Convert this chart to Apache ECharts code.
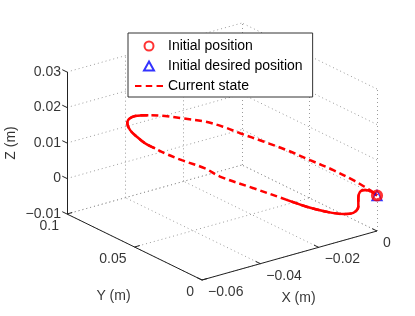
<!DOCTYPE html>
<html><head><meta charset="utf-8">
<script src="https://cdn.jsdelivr.net/npm/echarts@6/dist/echarts.min.js"></script>
<style>html,body{margin:0;padding:0;background:#fff}#c{width:415px;height:316px}</style>
</head><body><div id="c"></div>
<script>
// ---------- data ----------
const xTicks = [-0.06, -0.04, -0.02, 0];
const yTicks = [0, 0.05, 0.1];
const zTicks = [-0.01, 0, 0.01, 0.02, 0.03];
const xTickLabels = ['\u22120.06', '\u22120.04', '\u22120.02', '0'];
const yTickLabels = ['0', '0.05', '0.1'];
const zTickLabels = ['\u22120.01', '0', '0.01', '0.02', '0.03'];
const axisTitles = ['X (m)', 'Y (m)', 'Z (m)'];
const legendNames = ['Initial position', 'Initial desired position', 'Current state'];

const trajX = [0, -0.0009, -0.0021, -0.0030, -0.0033, -0.0033, -0.0042, -0.0059, -0.0089, -0.0124, -0.0159, -0.0218, -0.0277, -0.0303, -0.0344, -0.0374, -0.0391, -0.0409, -0.0423, -0.0435, -0.0440, -0.0437, -0.0426, -0.0403, -0.0374, -0.0344, -0.0303, -0.0271, -0.0241, -0.0200, -0.0159, -0.0118, -0.0077, -0.0042, -0.0018, -0.0004, 0];
const trajY = [0, 0.0019, 0.0043, 0.0061, 0.0067, 0.0067, 0.0085, 0.0121, 0.0181, 0.0253, 0.0325, 0.0445, 0.0565, 0.0619, 0.0703, 0.0763, 0.0799, 0.0835, 0.0865, 0.0889, 0.0899, 0.0893, 0.0871, 0.0823, 0.0763, 0.0703, 0.0619, 0.0553, 0.0493, 0.0409, 0.0325, 0.0241, 0.0157, 0.0085, 0.0037, 0.0007, 0];
const trajZ = [0, 0.0009, 0.0012, 0.0006, -0.0013, -0.0036, -0.0055, -0.0061, -0.0059, -0.0050, -0.0036, -0.0012, 0.0012, 0.0031, 0.0048, 0.0063, 0.0074, 0.0086, 0.0102, 0.0119, 0.0138, 0.0150, 0.0160, 0.0166, 0.0168, 0.0166, 0.0163, 0.0153, 0.0139, 0.0122, 0.0104, 0.0082, 0.0060, 0.0037, 0.0018, 0.0006, 0];
const initialPosition = [0, 0, 0];
const initialDesiredPosition = [0, 0, 0];

// ---------- view (orthographic projection of the axes box) ----------
const box = { x: [-0.06, 0], y: [0, 0.1], z: [-0.01, 0.03] };
const view = { origin: [202, 280], ux: [175, -49], uy: [-135, -66], uz: [0, -142] };
function proj(x, y, z) {
  const u = (x - box.x[0]) / (box.x[1] - box.x[0]);
  const v = (y - box.y[0]) / (box.y[1] - box.y[0]);
  const w = (z - box.z[0]) / (box.z[1] - box.z[0]);
  return [view.origin[0] + u * view.ux[0] + v * view.uy[0] + w * view.uz[0],
          view.origin[1] + u * view.ux[1] + v * view.uy[1] + w * view.uz[1]];
}
const [x0, x1] = box.x, [y0, y1] = box.y, [z0, z1] = box.z;
const seg = (a, b) => ({ coords: [a, b] });

const gridSegs = [];
xTicks.forEach(t => gridSegs.push(seg(proj(t, y0, z0), proj(t, y1, z0))));
yTicks.forEach(t => gridSegs.push(seg(proj(x0, t, z0), proj(x1, t, z0))));
xTicks.forEach(t => gridSegs.push(seg(proj(t, y1, z0), proj(t, y1, z1))));
zTicks.forEach(t => gridSegs.push(seg(proj(x0, y1, t), proj(x1, y1, t))));
yTicks.forEach(t => gridSegs.push(seg(proj(x1, t, z0), proj(x1, t, z1))));
zTicks.forEach(t => gridSegs.push(seg(proj(x1, y0, t), proj(x1, y1, t))));

const axisSegs = [
  seg(proj(x0, y0, z0), proj(x1, y0, z0)),
  seg(proj(x0, y0, z0), proj(x0, y1, z0)),
  seg(proj(x0, y1, z0), proj(x0, y1, z1))
];
const tx = 0.03 * (x1 - x0), ty = 0.035 * (y1 - y0);
xTicks.forEach(t => axisSegs.push(seg(proj(t, y0, z0), proj(t, y0 + ty, z0))));
yTicks.forEach(t => axisSegs.push(seg(proj(x0, t, z0), proj(x0 + tx, t, z0))));
zTicks.forEach(t => axisSegs.push(seg(proj(x0, y1, t), proj(x0, y1 + ty, t))));

const traj = trajX.map((x, i) => proj(x, trajY[i], trajZ[i]));
const solidRanges = [[0, 10], [16, 23]];
const trajSolid = traj.map((p, i) => solidRanges.some(r => i >= r[0] && i <= r[1]) ? p : '-');

const FONT = 'Liberation Sans';
const FS = 14;
const lbl = (extra) => Object.assign({ show: true, formatter: '{b}', fontFamily: FONT, fontSize: FS, color: '#000', position: 'inside' }, extra);
const textSeries = (data, label) => ({
  type: 'scatter', symbolSize: 0.1, itemStyle: { color: 'transparent' }, silent: true, z: 5,
  data, label: lbl(label)
});

const option = {
  animation: false,
  grid: { left: 0, right: 0, top: 0, bottom: 0 },
  xAxis: { type: 'value', min: 0, max: 415, show: false },
  yAxis: { type: 'value', min: 0, max: 316, inverse: true, show: false },
  legend: {
    orient: 'vertical', left: 128, top: 33, itemWidth: 28, itemHeight: 9, itemGap: 6,
    padding: [6, 10, 4, 7], borderColor: '#333', borderWidth: 1, backgroundColor: '#fff',
    symbolKeepAspect: true, selectedMode: false,
    textStyle: { fontFamily: FONT, fontSize: FS, color: '#000' },
    data: [
      { name: legendNames[0] },
      { name: legendNames[1], icon: 'path://M5,0L10,9L0,9Z' },
      { name: legendNames[2], icon: 'path://M0,0h6v2h-6z M10,0h6v2h-6z M20,0h6v2h-6z' }
    ],
    z: 10
  },
  series: [
    { type: 'lines', coordinateSystem: 'cartesian2d', silent: true, z: 1, data: gridSegs,
      lineStyle: { color: '#9a9a9a', width: 1, type: [1, 3], opacity: 1 } },
    { type: 'lines', coordinateSystem: 'cartesian2d', silent: true, z: 2, data: axisSegs,
      lineStyle: { color: '#222', width: 1, opacity: 1 } },
    { name: legendNames[2], type: 'line', data: traj, smooth: 0.35, symbol: 'none', z: 3,
      lineStyle: { color: '#ff0000', width: 2.5, type: [7, 4] }, itemStyle: { color: '#ff0000' } },
    { name: 'solid part', type: 'line', data: trajSolid, smooth: 0.35, symbol: 'none', z: 3, connectNulls: false,
      lineStyle: { color: '#ff0000', width: 2.5 } },
    { name: legendNames[1], type: 'scatter', data: [proj(...initialDesiredPosition)], symbol: 'triangle', symbolSize: 10, z: 4,
      itemStyle: { color: 'transparent', borderColor: '#0000ff', borderWidth: 1.5 } },
    { name: legendNames[0], type: 'scatter', data: [proj(...initialPosition)], symbol: 'circle', symbolSize: 9, z: 4,
      itemStyle: { color: 'transparent', borderColor: '#ff0000', borderWidth: 3.2 } },
    textSeries(zTicks.map((t, i) => ({ value: proj(x0, y1, t), name: zTickLabels[i] })), { align: 'right', verticalAlign: 'middle', offset: [-6, 0] }),
    textSeries(yTicks.map((t, i) => ({ value: proj(x0, t, z0), name: yTickLabels[i] })), { align: 'right', verticalAlign: 'middle', offset: [-8, 12] }),
    textSeries(xTicks.map((t, i) => ({ value: proj(t, y0, z0), name: xTickLabels[i] })), { align: 'left', verticalAlign: 'middle', offset: [6, 12] }),
    textSeries([{ value: proj((x0 + x1) / 2, y0, z0), name: axisTitles[0] }], { align: 'center', verticalAlign: 'middle', offset: [9, 43] }),
    textSeries([{ value: proj(x0, (y0 + y1) / 2, z0), name: axisTitles[1] }], { align: 'center', verticalAlign: 'middle', offset: [-21, 49] }),
    textSeries([{ value: proj(x0, y1, (z0 + z1) / 2), name: axisTitles[2] }], { align: 'center', verticalAlign: 'middle', offset: [0, -56], rotate: 90 })
  ]
};
const chart = echarts.init(document.getElementById('c'));
chart.setOption(option);
</script></body></html>
